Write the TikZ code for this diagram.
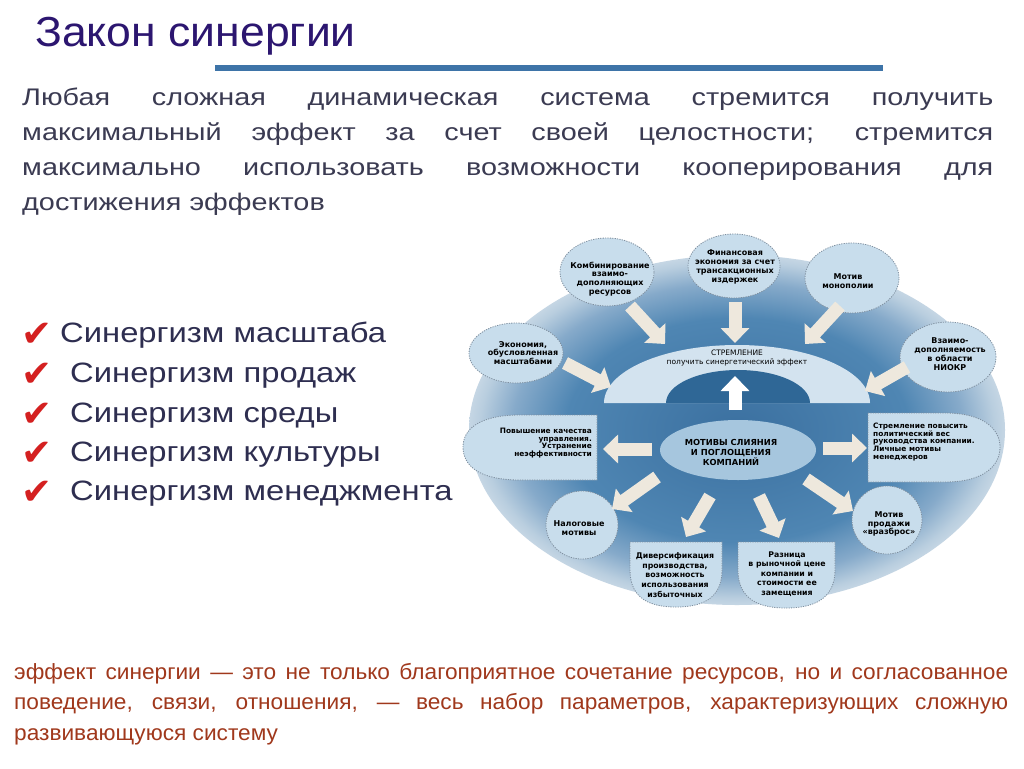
\documentclass[tikz,border=0pt]{standalone}
\usepackage{fontspec}
\setmainfont{Liberation Sans}
\newfontfamily\titlef[FakeStretch=1.06]{Liberation Sans}
\newfontfamily\bodyf[FakeStretch=1.2]{Liberation Sans}
\newfontfamily\itemf[FakeStretch=1.17]{Liberation Sans}
\newfontfamily\botf[FakeStretch=1.03]{Liberation Sans}
\newfontfamily\dejavu{DejaVu Sans}
\usetikzlibrary{shapes.geometric,arrows.meta}
\definecolor{titlec}{HTML}{2C1670}
\definecolor{barc}{HTML}{3E74A8}
\definecolor{parac}{HTML}{3B3B52}
\definecolor{itemc}{HTML}{2E2E50}
\definecolor{chkc}{HTML}{D42020}
\definecolor{botc}{HTML}{A0381C}
\definecolor{bubfill}{HTML}{C8DDEC}
\definecolor{bubline}{HTML}{7F8F9F}
\definecolor{archc}{HTML}{D3E3EF}
\definecolor{domec}{HTML}{2F6796}
\definecolor{cenc}{HTML}{A6C6DE}
\definecolor{arrc}{HTML}{EEE8DD}
\definecolor{bgA}{HTML}{3B70A0}
\definecolor{bgB}{HTML}{4F86B3}
\definecolor{bgC}{HTML}{86AACA}
\definecolor{bgD}{HTML}{B9CEDF}
\definecolor{bgE}{HTML}{C5D6E4}
\pgfdeclareradialshading{bgshade}{\pgfpoint{0bp}{0bp}}{color(0bp)=(bgA); color(16bp)=(bgB); color(21bp)=(bgC); color(24bp)=(bgD); color(25bp)=(bgE); color(50bp)=(bgE)}
\tikzset{
  bub/.style={ellipse, draw=bubline, dash pattern=on 1.2pt off 1.2pt, line width=0.8pt, fill=bubfill, inner sep=0pt},
  bubpath/.style={draw=bubline, dash pattern=on 1.2pt off 1.2pt, line width=0.8pt, fill=bubfill},
  btxt/.style={font=\dejavu\bfseries\fontsize{8}{8.8}\selectfont, align=center, inner sep=0pt, text=black},
  barrow/.style={line width=13pt, draw=arrc, -{Triangle[width=28pt,length=15pt]}},
  chk/.style={font=\dejavu\fontsize{37}{37}\selectfont, text=chkc, inner sep=0pt},
  item/.style={font=\itemf\fontsize{28}{28}\selectfont, text=itemc, inner sep=0pt, anchor=base west},
}
\begin{document}
\begin{tikzpicture}[x=1pt,y=-1pt]
\useasboundingbox[fill=white] (0,0) rectangle (1024,768);

% title
\node[anchor=base west, inner sep=0pt, font=\titlef\fontsize{42}{42}\selectfont, text=titlec] (title) at (35,47) {Закон синергии};
\fill[barc] (215,65) rectangle (883,71);

% paragraph
\node[anchor=north west, inner sep=0pt, align=left, font=\bodyf\fontsize{24}{35}\selectfont, text=parac] (para) at (22,88)
{\makebox[971pt][s]{Любая сложная динамическая система стремится получить}\\
 \makebox[971pt][s]{максимальный эффект за счет своей целостности; стремится}\\
 \makebox[971pt][s]{максимально использовать возможности кооперирования для}\\
 достижения эффектов};

% check list
\node[chk] (k1) at (37,335) {✔};
\node[chk] (k2) at (37,375) {✔};
\node[chk] (k3) at (37,415) {✔};
\node[chk] (k4) at (37,454) {✔};
\node[chk] (k5) at (37,493) {✔};
\node[item] (s1) at (60,342) {Синергизм масштаба};
\node[item] (s2) at (70,382) {Синергизм продаж};
\node[item] (s3) at (70,422) {Синергизм среды};
\node[item] (s4) at (70,461) {Синергизм культуры};
\node[item] (s5) at (70,500) {Синергизм менеджмента};

% bottom text
\node[anchor=north west, inner sep=0pt, align=left, font=\botf\fontsize{22}{30.5}\selectfont, text=botc] (bot) at (14,663)
{\makebox[994pt][s]{эффект синергии — это не только благоприятное сочетание ресурсов, но и согласованное}\\
 \makebox[994pt][s]{поведение, связи, отношения, — весь набор параметров, характеризующих сложную}\\
 развивающуюся систему};

% diagram background
\path[shading=bgshade] (737,430) ellipse [x radius=268pt, y radius=175pt];

% arch
\fill[archc] (604,403) arc[start angle=180,end angle=0,x radius=133pt,y radius=58pt] -- cycle;
\fill[domec] (666,403) arc[start angle=180,end angle=0,x radius=72pt,y radius=33pt] -- cycle;
\node[font=\dejavu\fontsize{7.5}{9.5}\selectfont, align=center, inner sep=0pt] (arch) at (737,358) {СТРЕМЛЕНИЕ\\получить синергетический эффект};

% bubbles
\node[bub, minimum width=94pt, minimum height=68pt] (b1) at (607,272) {};
\node[bub, minimum width=92pt, minimum height=64pt] (b2) at (734,266) {};
\node[bub, minimum width=94pt, minimum height=70pt] (b3) at (852,278) {};
\node[bub, minimum width=96pt, minimum height=70pt] (b4) at (948,357) {};
\node[bub, minimum width=94pt, minimum height=60pt] (b5) at (516,353) {};
\node[bub, minimum width=72pt, minimum height=68pt] (b8) at (582,525) {};
\node[bub, minimum width=70pt, minimum height=68pt] (b11) at (887,520) {};
\path[bubpath] (597,415) -- (520,415) .. controls (478,415) and (463,430) .. (463,447) .. controls (463,465) and (478,480) .. (520,480) -- (597,480) -- cycle;
\path[bubpath] (868,413) -- (945,413) .. controls (985,413) and (1000,430) .. (1000,447) .. controls (1000,465) and (985,482) .. (945,482) -- (868,482) -- cycle;
\path[bubpath] (630,542) -- (722,542) -- (722,570) .. controls (722,600) and (700,607) .. (676,607) .. controls (652,607) and (630,600) .. (630,570) -- cycle;
\path[bubpath] (738,542) -- (835,542) -- (835,570) .. controls (835,600) and (812,608) .. (786,608) .. controls (760,608) and (738,600) .. (738,570) -- cycle;

% arrows
\coordinate (a1t) at (630,306); \coordinate (a1h) at (665,344);
\coordinate (a2t) at (735,302); \coordinate (a2h) at (735,343);
\coordinate (a3t) at (840,306); \coordinate (a3h) at (805,344);
\coordinate (a4t) at (565,363); \coordinate (a4h) at (611,387);
\coordinate (a5t) at (907,367); \coordinate (a5h) at (865,391);
\coordinate (a6t) at (735,410); \coordinate (a6h) at (735,376);
\coordinate (a7t) at (652,449); \coordinate (a7h) at (603,449);
\coordinate (a8t) at (823,448); \coordinate (a8h) at (867,448);
\coordinate (a9t) at (657,477); \coordinate (a9h) at (612,509);
\coordinate (a10t) at (710,496); \coordinate (a10h) at (686,537);
\coordinate (a11t) at (759,496); \coordinate (a11h) at (779,538);
\coordinate (a12t) at (806,479); \coordinate (a12h) at (853,511);
\foreach \i in {1,2,3,4,5,7,8,9,10,11,12} {\draw[barrow] (a\i t) -- (a\i h);}
\draw[barrow, draw=white] (a6t) -- (a6h);

% center
\node[ellipse, fill=cenc, minimum width=156pt, minimum height=60pt, inner sep=0pt] (cen) at (738,450) {};
\node[btxt, font=\dejavu\bfseries\fontsize{8.3}{10}\selectfont] (ct) at (731,452) {МОТИВЫ СЛИЯНИЯ\\И ПОГЛОЩЕНИЯ\\КОМПАНИЙ};

% bubble texts
\node[btxt] (t1) at (610,279) {Комбинирование\\взаимо-\\дополняющих\\ресурсов};
\node[btxt] (t2) at (735,267) {Финансовая\\экономия за счет\\трансакционных\\издержек};
\node[btxt] (t3) at (848,281) {Мотив\\монополии};
\node[btxt] (t4) at (950,354) {Взаимо-\\дополняемость\\в области\\НИОКР};
\node[btxt] (t5) at (523,353) {Экономия,\\обусловленная\\масштабами};
\node[btxt, align=right, anchor=east, font=\dejavu\bfseries\fontsize{7.4}{7.7}\selectfont] (t6) at (592,443) {Повышение качества\\управления.\\Устранение\\неэффективности};
\node[btxt, align=left, anchor=west, font=\dejavu\bfseries\fontsize{7.4}{7.7}\selectfont] (t7) at (873,442) {Стремление повысить\\политический вес\\руководства компании.\\Личные мотивы\\менеджеров};
\node[btxt] (t8) at (579,528) {Налоговые\\мотивы};
\node[btxt, font=\dejavu\bfseries\fontsize{7.8}{9.8}\selectfont] (t9) at (675,575) {Диверсификация\\производства,\\возможность\\использования\\избыточных};
\node[btxt, font=\dejavu\bfseries\fontsize{7.8}{9.5}\selectfont] (t10) at (787,574) {Разница\\в рыночной цене\\компании и\\стоимости ее\\замещения};
\node[btxt] (t11) at (889,524) {Мотив\\продажи\\«вразброс»};
\end{tikzpicture}
\end{document}
